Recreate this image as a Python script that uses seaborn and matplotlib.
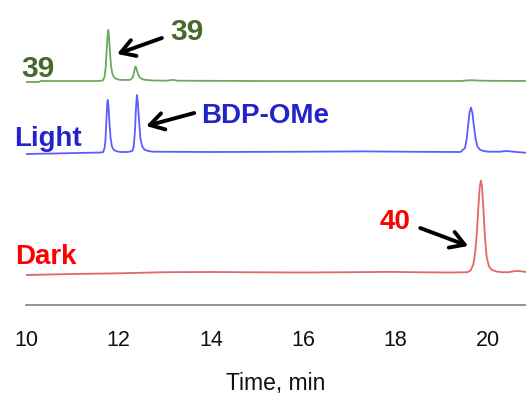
import matplotlib
matplotlib.use("Agg")
import matplotlib.pyplot as plt
import seaborn as sns
import pandas as pd

# HPLC traces: retention time (min) and detector signal above each trace's baseline
green_time = [10.00, 10.28, 10.32, 10.40, 11.00, 11.55, 11.62, 11.66, 11.70, 11.725,
              11.75, 11.772, 11.78, 11.795, 11.815, 11.84, 11.87, 11.91, 11.96, 12.03,
              12.15, 12.26, 12.31, 12.34, 12.36, 12.372, 12.39, 12.42, 12.46, 12.52,
              12.60, 12.75, 13.05, 13.15, 13.20, 13.28, 15.00, 17.00, 19.40, 19.55,
              19.65, 19.80, 20.00, 20.82]
green_signal = [-1.0, -1.0, 0.0, 0.0, 0.0, 0.0, 0.3, 0.5, 4.0, 14.0,
                34.0, 49.0, 51.0, 45.0, 30.0, 15.0, 7.0, 3.5, 2.0, 1.2,
                1.0, 1.2, 3.5, 9.0, 13.5, 14.5, 12.5, 7.5, 3.5, 1.8,
                1.0, 0.5, 0.3, 1.0, 1.0, 0.3, 0.0, 0.0, 0.0, 0.6,
                0.8, 0.4, 0.2, 0.0]

blue_time = [10.00, 10.60, 11.30, 11.62, 11.67, 11.70, 11.72, 11.74, 11.76, 11.77,
             11.785, 11.805, 11.83, 11.86, 11.90, 11.97, 12.05, 12.20, 12.30, 12.33,
             12.355, 12.38, 12.40, 12.42, 12.445, 12.475, 12.51, 12.56, 12.64, 12.75,
             14.00, 16.00, 17.30, 18.50, 19.40, 19.50, 19.54, 19.57, 19.60, 19.63,
             19.66, 19.69, 19.73, 19.77, 19.82, 19.90, 20.00, 20.25, 20.40, 20.55,
             20.82]
blue_signal = [-2.0, -1.5, -0.8, -0.5, 0.0, 4.0, 12.0, 32.0, 50.0, 52.0,
               46.0, 30.0, 14.0, 5.5, 2.0, 0.6, 0.0, 0.0, 1.0, 5.0,
               19.0, 44.0, 57.0, 50.0, 32.0, 14.0, 6.0, 2.5, 1.0, 0.3,
               0.0, 0.3, 0.6, 0.2, 0.0, 4.0, 14.0, 28.0, 40.0, 44.5,
               39.0, 27.0, 13.0, 5.5, 2.5, 1.0, 0.3, 0.3, 1.0, 0.3,
               -0.8]

red_time = [10.00, 10.50, 11.00, 12.00, 13.00, 14.00, 15.00, 16.00, 17.00, 17.90,
            18.60, 19.20, 19.55, 19.62, 19.68, 19.72, 19.76, 19.79, 19.82, 19.845,
            19.87, 19.90, 19.935, 19.97, 20.02, 20.08, 20.18, 20.30, 20.45, 20.58,
            20.66, 20.82]
red_signal = [-2.5, -2.0, -1.5, -0.8, 0.3, 0.5, 0.2, 0.0, 0.3, 0.6,
              0.2, 0.0, 0.3, 2.0, 8.0, 20.0, 42.0, 66.0, 86.0, 92.0,
              85.0, 62.0, 33.0, 15.0, 6.0, 2.5, 1.0, 0.3, 0.3, 1.5,
              1.5, 0.5]

trace_names = ["39", "Light", "Dark"]
x_ticks = [10, 12, 14, 16, 18, 20]

# vertical stacking of the three chromatograms
offsets = {"39": 224.0, "Light": 153.0, "Dark": 32.5}
line_colors = {"39": "#6aaa5c", "Light": "#5c5cff", "Dark": "#e06868"}

sns.set_style("white")
plt.rcParams["font.family"] = ["Liberation Sans", "DejaVu Sans"]

frames = []
for name, t, s in zip(trace_names,
                      [green_time, blue_time, red_time],
                      [green_signal, blue_signal, red_signal]):
    frames.append(pd.DataFrame({"time": t,
                                "signal": [v + offsets[name] for v in s],
                                "trace": name}))
df = pd.concat(frames, ignore_index=True)

fig = plt.figure(figsize=(5.26, 3.94), dpi=100)
ax = fig.add_axes([26 / 526, 1 - 305 / 394, 500 / 526, 305 / 394])

for name in trace_names:
    sub = df[df["trace"] == name]
    sns.lineplot(data=sub, x="time", y="signal", ax=ax, color=line_colors[name],
                 lw=1.3, estimator=None, sort=False, legend=False)

ax.set_xlim(10, 20.82)
ax.set_ylim(0, 305)
ax.set_xticks(x_ticks)
ax.set_xticklabels([str(v) for v in x_ticks], fontsize=15.5, color="#111111")
ax.set_yticks([])
ax.set_ylabel("")
ax.set_xlabel("Time, min", fontsize=16.5, color="#111111", labelpad=15)
for side in ["left", "top", "right"]:
    ax.spines[side].set_visible(False)
ax.spines["bottom"].set_color("#808080")
ax.spines["bottom"].set_linewidth(1.2)
ax.tick_params(axis="x", direction="out", length=4, width=1.2, color="#808080", pad=14)
ax.patch.set_alpha(0)

green_txt = "#46692c"
blue_txt = "#2323cc"
red_txt = "#ff0000"

ax.text(9.89, 228, "39", fontsize=21.5, fontweight="bold", color=green_txt,
        ha="left", va="baseline", clip_on=False)
ax.text(13.12, 265, "39", fontsize=21.5, fontweight="bold", color=green_txt,
        ha="left", va="baseline")
ax.text(9.74, 159, "Light", fontsize=20, fontweight="bold", color=blue_txt,
        ha="left", va="baseline", clip_on=False)
ax.text(13.79, 182, "BDP-OMe", fontsize=20, fontweight="bold", color=blue_txt,
        ha="left", va="baseline")
ax.text(9.76, 41, "Dark", fontsize=20, fontweight="bold", color=red_txt,
        ha="left", va="baseline", clip_on=False)
ax.text(17.66, 76, "40", fontsize=20, fontweight="bold", color=red_txt,
        ha="left", va="baseline")

arrow_kw = dict(arrowstyle="->, head_length=0.5, head_width=0.3",
                color="black", lw=2.8, mutation_scale=20, shrinkA=0, shrinkB=0)
ax.annotate("", xy=(11.97, 251), xytext=(12.94, 267), arrowprops=arrow_kw)
ax.annotate("", xy=(12.60, 179), xytext=(13.64, 192), arrowprops=arrow_kw)
ax.annotate("", xy=(19.57, 59), xytext=(18.53, 77), arrowprops=arrow_kw)

fig.savefig("out.png", dpi=100)
